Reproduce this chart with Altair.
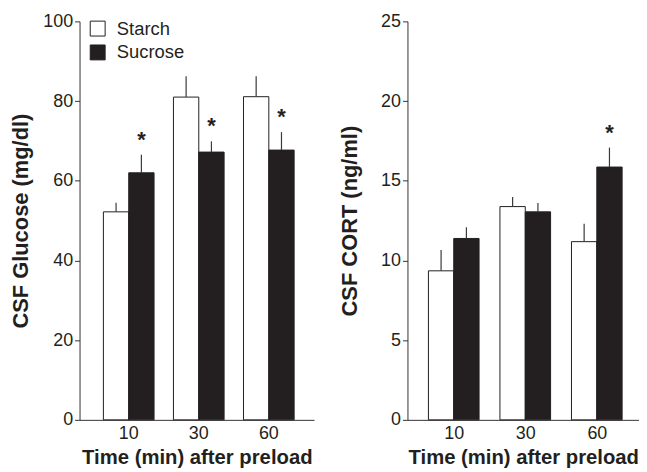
import altair as alt
import pandas as pd

# ---- data ----
times = ["10", "30", "60"]
diets = ["Starch", "Sucrose"]

glucose_starch = [52.2, 81.0, 81.1]
glucose_starch_sem = [2.3, 5.2, 5.1]
glucose_sucrose = [62.0, 67.2, 67.7]
glucose_sucrose_sem = [4.5, 2.7, 4.5]
glucose_sig = [False, False, False, True, True, True]  # starch x3, sucrose x3

cort_starch = [9.35, 13.38, 11.18]
cort_starch_sem = [1.3, 0.6, 1.13]
cort_sucrose = [11.38, 13.05, 15.86]
cort_sucrose_sem = [0.7, 0.56, 1.22]
cort_sig = [False, False, False, False, False, True]

DARK = "#231f20"
FONT = "Liberation Sans"


def make_df(starch, starch_sem, sucrose, sucrose_sem, sig):
    rows = []
    vals = [(d, t, v, e) for d, vs, es in
            [("Starch", starch, starch_sem), ("Sucrose", sucrose, sucrose_sem)]
            for t, v, e in zip(times, vs, es)]
    for (d, t, v, e), s in zip(vals, sig):
        rows.append({"time": t, "diet": d, "value": v, "top": v + e, "sig": s})
    return pd.DataFrame(rows)


def panel(df, ymax, ystep, ytitle, title_pad, show_legend, width,
          p_outer, align):
    x = alt.X("time:N", sort=times,
              scale=alt.Scale(paddingInner=0.277, paddingOuter=p_outer,
                              align=align),
              axis=alt.Axis(title="Time (min) after preload", labelAngle=0,
                            ticks=False, tickSize=0, labelPadding=5,
                            titlePadding=5))
    xo = alt.XOffset("diet:N", sort=diets,
                     scale=alt.Scale(paddingInner=0, paddingOuter=0))
    y = alt.Y("value:Q",
              scale=alt.Scale(domain=[0, ymax], nice=False),
              axis=alt.Axis(title=ytitle, values=list(range(0, ymax + 1, ystep)),
                            tickSize=5, labelPadding=2, titlePadding=title_pad,
                            grid=False))
    if show_legend:
        legend = alt.Legend(title=None, orient="none", legendX=9, legendY=-2,
                            symbolType="square", symbolSize=225,
                            symbolStrokeColor=DARK, symbolStrokeWidth=1,
                            labelFontSize=18.5, labelFont=FONT, labelColor=DARK,
                            labelOffset=10, rowPadding=4, padding=0)
    else:
        legend = None
    fill = alt.Fill("diet:N", sort=diets,
                    scale=alt.Scale(domain=diets, range=["#ffffff", DARK]),
                    legend=legend)
    bars = alt.Chart(df).mark_bar(stroke=DARK, strokeWidth=1).encode(
        x=x, xOffset=xo, y=y, fill=fill)
    rules = alt.Chart(df).mark_rule(color="#3a3a3a", strokeWidth=1.2).encode(
        x=x, xOffset=xo, y="value:Q", y2="top:Q")
    stars = alt.Chart(df).transform_filter("datum.sig").mark_text(
        text="*", fontSize=22, fontWeight="bold", font=FONT, color=DARK,
        dy=-8, baseline="alphabetic").encode(
        x=x, xOffset=xo, y="top:Q")
    return alt.layer(bars, rules, stars).properties(width=width, height=401)


left = panel(make_df(glucose_starch, glucose_starch_sem, glucose_sucrose,
                     glucose_sucrose_sem, glucose_sig),
             100, 20, "CSF Glucose (mg/dl)", 10, True, 236, 0.3125, 0.545)
right = panel(make_df(cort_starch, cort_starch_sem, cort_sucrose,
                      cort_sucrose_sem, cort_sig),
              25, 5, "CSF CORT (ng/ml)", 19, False, 233, 0.257, 0.57)

chart = alt.hconcat(left, right, spacing=24).resolve_scale(
    fill="independent", x="independent", y="independent"
).properties(
    padding={"top": 3, "left": 1, "right": 0, "bottom": 0}
).configure_view(stroke=None).configure_axis(
    labelFont=FONT, labelFontSize=18, labelColor=DARK,
    titleFont=FONT, titleFontWeight="bold", titleColor=DARK,
    domainColor="#333333", tickColor="#333333", domainWidth=1,
).configure_axisY(titleFontSize=22).configure_axisX(titleFontSize=20.4)

chart.save("out.html", embed_options={"renderer": "svg", "actions": False})
